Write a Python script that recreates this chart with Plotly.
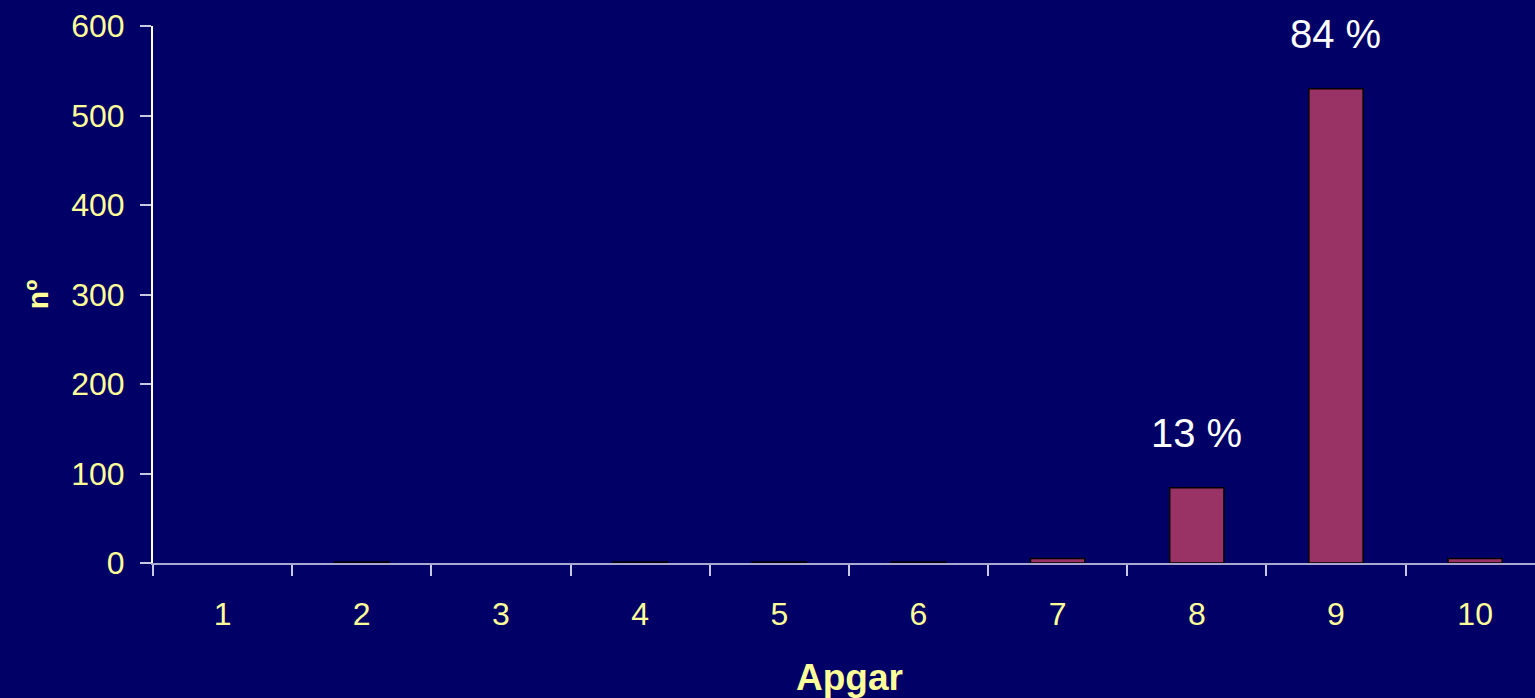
import plotly.graph_objects as go

categories = ["1", "2", "3", "4", "5", "6", "7", "8", "9", "10"]
counts = [0, 1, 0, 1, 1, 1, 5, 84, 530, 5]
pct_labels = ["", "", "", "", "", "", "", "13 %", "84 %", ""]

BG = "#000066"
YEL = "#FFFF99"

fig = go.Figure()
fig.add_trace(go.Bar(
    x=categories, y=counts, width=0.39,
    marker=dict(color="#993366",
                line=dict(color="black", width=[1.5 if v > 0 else 0 for v in counts])),
    hoverinfo="skip",
))

for i, (v, t) in enumerate(zip(counts, pct_labels)):
    if t:
        fig.add_annotation(x=i, y=v, text=t, showarrow=False, yanchor="middle",
                           yshift=55, font=dict(color="white", size=40,
                                                family="Liberation Sans, Arial"))

# x-axis title (placed as annotation to match reference centring)
fig.add_annotation(xref="paper", yref="paper", x=0.504, y=0, text="<b>Apgar</b>",
                   showarrow=False, yanchor="middle", yshift=-114,
                   font=dict(size=37, color=YEL, family="Liberation Sans, Arial"))

fig.update_layout(
    width=1535, height=698,
    paper_bgcolor=BG, plot_bgcolor=BG,
    margin=dict(l=153, r=0, t=26, b=135),
    showlegend=False,
    font=dict(family="Liberation Sans, Arial", color=YEL, size=32),
)
fig.update_xaxes(
    type="category", range=[-0.5, 9.43],
    tickson="boundaries", ticks="outside", ticklen=11, tickcolor="#c8c8e0", tickwidth=2,
    showline=True, linecolor="#a8a8d0", linewidth=2,
    showgrid=False, zeroline=False,
    tickfont=dict(size=32, color=YEL), ticklabelstandoff=22,
)
fig.update_yaxes(
    range=[0, 600], tickvals=[0, 100, 200, 300, 400, 500, 600],
    ticks="outside", ticklen=11, tickcolor="#c8c8e0", tickwidth=2,
    showline=True, linecolor="white", linewidth=2,
    showgrid=False, zeroline=False,
    tickfont=dict(size=32, color=YEL), ticklabelstandoff=9,
    title=dict(text="<b>nº</b>", font=dict(size=30, color=YEL), standoff=14),
)

fig.write_html("out.html", config={"displayModeBar": False},
               post_script="document.body.style.margin='0';document.body.style.overflow='hidden';document.body.style.background='#000066';")
